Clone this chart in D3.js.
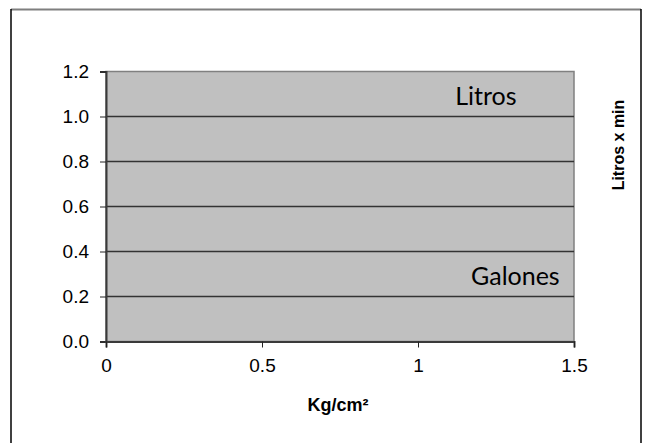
<!DOCTYPE html>
<html>
<head>
<meta charset="utf-8">
<script src="https://cdn.jsdelivr.net/npm/d3@7"></script>
<style>
  body { margin: 0; background: #fff; }
  svg { display: block; }
</style>
</head>
<body>
<script>
// valores del gráfico
const xTicks = [0, 0.5, 1, 1.5];
const yTicks = [0, 0.2, 0.4, 0.6, 0.8, 1.0, 1.2];
const seriesNames = ["Litros", "Galones"];
const xTitle = "Kg/cm²";
const yTitle = "Litros x min";

const W = 646, H = 443;
const svg = d3.select("body").append("svg")
  .attr("width", W)
  .attr("height", H);

// marco exterior
svg.append("line").attr("x1", 11).attr("x2", 641).attr("y1", 9.5).attr("y2", 9.5)
  .attr("stroke", "#7f7f7f").attr("stroke-width", 2);
svg.append("line").attr("x1", 11).attr("x2", 11).attr("y1", 9).attr("y2", H)
  .attr("stroke", "#000").attr("stroke-width", 1.5);
svg.append("line").attr("x1", 641).attr("x2", 641).attr("y1", 9).attr("y2", H)
  .attr("stroke", "#000").attr("stroke-width", 1.5);

const x = d3.scaleLinear().domain([0, 1.5]).range([106, 574]);
const y = d3.scaleLinear().domain([0, 1.2]).range([341.5, 71.5]);

// área del gráfico
svg.append("rect")
  .attr("x", x(0)).attr("y", y(1.2))
  .attr("width", x(1.5) - x(0)).attr("height", y(0) - y(1.2))
  .attr("fill", "#c0c0c0")
  .attr("stroke", "#808080").attr("stroke-width", 1.5);

// líneas de cuadrícula
svg.append("g").selectAll("line")
  .data(yTicks.filter(d => d > 0 && d < 1.2))
  .enter().append("line")
  .attr("x1", x(0)).attr("x2", x(1.5))
  .attr("y1", d => y(d)).attr("y2", d => y(d))
  .attr("stroke", "#333").attr("stroke-width", 1.4);

// eje y
const yAxis = svg.append("g")
  .attr("transform", `translate(${x(0)},0)`)
  .call(d3.axisLeft(y).tickValues(yTicks).tickFormat(d3.format(".1f")).tickSize(6).tickPadding(11));

// eje x
const xAxis = svg.append("g")
  .attr("transform", `translate(0,${y(0)})`)
  .call(d3.axisBottom(x).tickValues(xTicks).tickFormat(d => d).tickSize(6).tickPadding(11));

[yAxis, xAxis].forEach(a => {
  a.select(".domain").attr("stroke", "#3a3a3a").attr("stroke-width", 2);
  a.selectAll(".tick line").attr("stroke", "#222").attr("stroke-width", 1);
  a.selectAll(".tick text")
    .attr("fill", "#000")
    .style("font-family", "Arial, 'Liberation Sans', sans-serif")
    .style("font-size", "19px");
});

// etiquetas de series dentro del gráfico
const seriesPos = [[1.119, 1.051], [1.17, 0.251]];
svg.append("g").selectAll("text")
  .data(seriesNames)
  .enter().append("text")
  .text(d => d)
  .attr("x", (d, i) => x(seriesPos[i][0]))
  .attr("y", (d, i) => y(seriesPos[i][1]))
  .style("font-family", "Lato, 'Open Sans', sans-serif")
  .style("font-size", "25px")
  .attr("fill", "#000");

// títulos de ejes
svg.append("text")
  .text(xTitle)
  .attr("x", 338)
  .attr("y", 411)
  .attr("text-anchor", "middle")
  .style("font-family", "Arial, 'Liberation Sans', sans-serif")
  .style("font-weight", "bold")
  .style("font-size", "18px");

svg.append("text")
  .text(yTitle)
  .attr("transform", "translate(624,145) rotate(-90)")
  .attr("text-anchor", "middle")
  .style("font-family", "Arial, 'Liberation Sans', sans-serif")
  .style("font-weight", "bold")
  .style("font-size", "16px");
</script>
</body>
</html>
